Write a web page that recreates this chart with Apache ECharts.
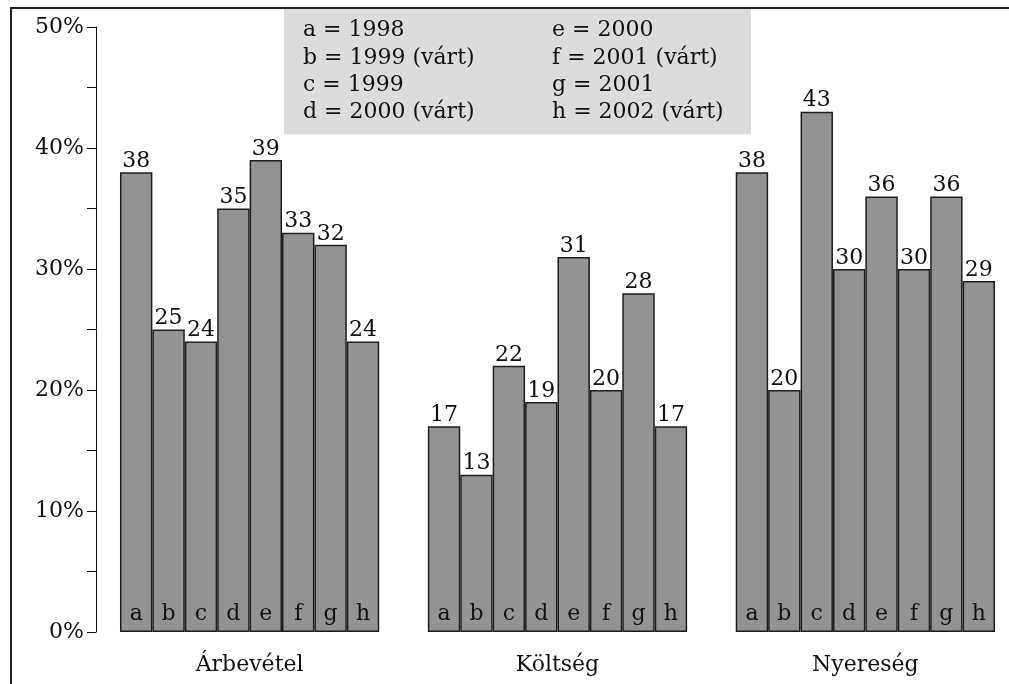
<!DOCTYPE html>
<html>
<head>
<meta charset="utf-8">
<script src="https://cdn.jsdelivr.net/npm/echarts@6/dist/echarts.min.js"></script>
<style>html,body{margin:0;padding:0;background:#fff;}#c{width:1009px;height:684px;}</style>
</head>
<body>
<div id="c"></div>
<script>
const groups = ['Árbevétel', 'Költség', 'Nyereség'];
const letters = ['a', 'b', 'c', 'd', 'e', 'f', 'g', 'h'];
const arbevetel = [38, 25, 24, 35, 39, 33, 32, 24];
const koltseg = [17, 13, 22, 19, 31, 20, 28, 17];
const nyereseg = [38, 20, 43, 30, 36, 30, 36, 29];
const legendLeft = ['a = 1998', 'b = 1999 (várt)', 'c = 1999', 'd = 2000 (várt)'];
const legendRight = ['e = 2000', 'f = 2001 (várt)', 'g = 2001', 'h = 2002 (várt)'];
const yTicks = [0, 10, 20, 30, 40, 50];

const FONT = 'DejaVu Serif';
const FS = 22;
const GROUP_STEP = 9.5;
const seriesValues = [arbevetel, koltseg, nyereseg];

const barData = [];
const letterData = [];
seriesValues.forEach((vals, g) => {
  vals.forEach((v, i) => {
    const x = g * GROUP_STEP + i + 0.5;
    barData.push([x, v]);
    letterData.push({ value: [x, v], letter: letters[i] });
  });
});
const groupCenters = groups.map((_, g) => g * GROUP_STEP + 4);

const legendText = legendLeft.map((t, i) => '{c1|' + t + '}{c2|' + legendRight[i] + '}').join('\n');

const chart = echarts.init(document.getElementById('c'), null, { renderer: 'canvas' });
chart.setOption({
  backgroundColor: '#fff',
  animation: false,
  textStyle: { fontFamily: FONT },
  title: {
    left: 284, top: 9,
    padding: [8, 17, 8, 19],
    backgroundColor: '#dcdcdc',
    text: legendText,
    textStyle: {
      fontFamily: FONT, fontSize: FS, fontWeight: 'normal', color: '#111', lineHeight: 27.3,
      rich: {
        c1: { width: 249, fontFamily: FONT, fontSize: FS, color: '#111', lineHeight: 27.3 },
        c2: { width: 182, fontFamily: FONT, fontSize: FS, color: '#111', lineHeight: 27.3 }
      }
    }
  },
  graphic: [{
    type: 'rect', z: 100, silent: true,
    shape: { x: 11, y: 8, width: 1100, height: 1000 },
    style: { fill: 'none', stroke: '#222', lineWidth: 2 }
  }],
  grid: { left: 96, right: 14, top: 27, bottom: 52, containLabel: false },
  xAxis: {
    type: 'value', min: -0.74, max: 3 * 8 + 2 * 1.5,
    axisLine: { show: false, onZero: false }, axisTick: { show: false }, splitLine: { show: false },
    axisLabel: {
      customValues: groupCenters,
      formatter: (v) => groups[groupCenters.indexOf(v)] || '',
      fontFamily: FONT, fontSize: FS, color: '#111', margin: 22
    }
  },
  yAxis: {
    type: 'value', min: 0, max: 50, interval: 10,
    axisLine: { show: true, onZero: false, lineStyle: { color: '#111', width: 1 } },
    axisTick: { show: true, length: 9, lineStyle: { color: '#111', width: 1 } },
    minorTick: { show: true, splitNumber: 2, length: 9, lineStyle: { color: '#111', width: 1 } },
    splitLine: { show: false },
    axisLabel: { formatter: '{value}%', fontFamily: FONT, fontSize: FS, color: '#111', margin: 12,
      padding: [6, 0, 0, 0] }
  },
  series: [
    {
      type: 'bar', data: barData, barWidth: 32.4, barGap: '-100%',
      itemStyle: { color: '#939393', borderColor: '#1e1e1e', borderWidth: 1.5 },
      label: { show: true, position: 'top', distance: 0, fontFamily: FONT, fontSize: FS, color: '#111',
        formatter: (p) => p.value[1] }
    },
    {
      type: 'bar', data: letterData, barWidth: 32.4, barGap: '-100%', silent: true,
      itemStyle: { color: 'rgba(0,0,0,0)', borderWidth: 0 },
      label: { show: true, position: 'insideBottom', distance: 7, fontFamily: FONT, fontSize: FS, color: '#111',
        formatter: (p) => p.data.letter }
    }
  ]
});
</script>
</body>
</html>
